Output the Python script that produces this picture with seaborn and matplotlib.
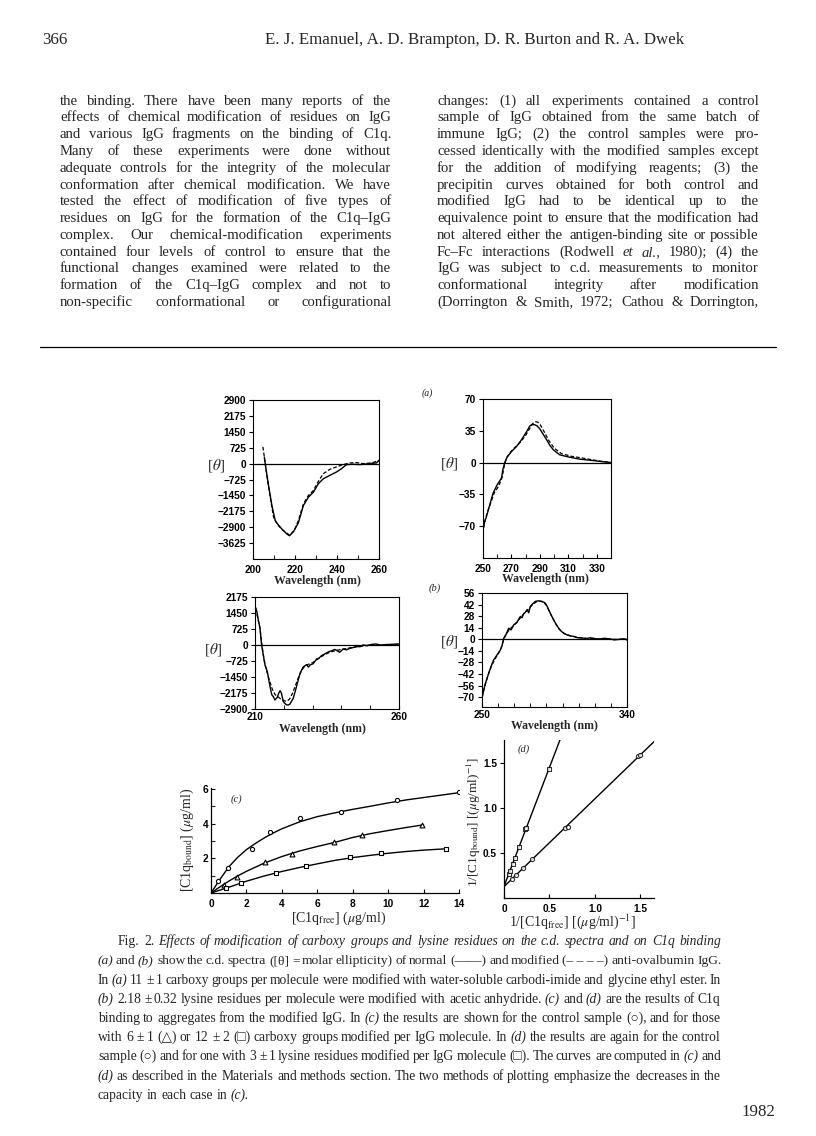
import numpy as np
import seaborn as sns
import matplotlib.pyplot as plt
from matplotlib.lines import Line2D
from matplotlib.font_manager import FontProperties

W, H = 816, 1136

# ---- (a) far-UV c.d. spectrum, carboxy-modified IgG
a1_sol_x = [205.4, 205.8, 207.4, 209.0, 210.6, 211.7, 213.7, 216.1, 217.4, 219.3, 221.6, 224.0, 226.4,
            228.8, 231.1, 233.5, 236.6, 239.8, 242.2, 244.5, 247.7, 250.9, 255.6, 258.8, 260.0]
a1_sol_y = [300, 0, -1000, -1910, -2600, -2750, -2980, -3210, -3290, -3100, -2700, -1910, -1530,
            -1300, -920, -690, -535, -380, -230, -46, -30, -46, 0, 30, 150]
a1_dash_x = [204.7, 205.4, 206.6, 208.2, 209.8, 211.7, 214.5, 217.4, 219.6, 221.6, 224.0, 226.4,
             228.8, 231.1, 233.5, 236.6, 239.8, 242.9, 246.1, 249.3, 252.4, 256.4, 260.0]
a1_dash_y = [765, 300, -535, -1530, -2450, -2800, -3060, -3260, -3060, -2600, -1840, -1450,
             -1220, -810, -460, -260, -150, -46, 30, 46, 0, 30, 140]

# ---- (a) near-UV spectrum
a2_sol_x = [250.5, 251, 252.4, 254.7, 257, 259.9, 263, 264, 265.3, 266.9, 270, 273.6, 277, 280.7, 283,
            284.5, 286.6, 288, 290, 292, 294.8, 297, 299.5, 304, 311, 318.4, 327.8, 334, 340]
a2_sol_y = [-70, -66, -59.6, -46.8, -34, -24.6, -17, -7.4, 0, 5.9, 12.1, 17.7, 25, 34.2, 40.5,
            42, 41.5, 40.5, 37, 32, 25, 19, 14, 8.5, 5.9, 3.7, 2.2, 1, 0]
a2_dash_x = [250.5, 251.5, 253, 255.5, 258, 261, 263.5, 265, 266.5, 269, 272, 276, 280, 283, 285,
             287, 288.5, 290.5, 293, 296, 300, 305, 312, 320, 328, 334, 340]
a2_dash_y = [-72, -63, -55, -44, -33, -26, -16, -3, 5, 11, 16, 22, 30, 38, 43,
             45, 44.5, 41, 34, 25, 16, 10, 7, 5, 2.8, 1.2, 0]

# ---- (b) far-UV spectrum, lysine-modified IgG
b1_sol_x = [210.2, 210.6, 211.2, 211.7, 212.3, 212.9, 213.5, 214.3, 215, 215.8, 216.4, 216.9, 217.7,
            218.2, 218.7, 219.2, 219.8, 220.4, 220.9, 221.5, 222.1, 223.3, 224.4, 225.6, 226.7, 227.9,
            228.5, 229.2, 230.2, 231.4, 232.2, 233.1, 234, 234.8, 235.7, 236.6, 237.7, 238.5, 239.4,
            240.6, 241.7, 242.9, 244, 245.2, 246.5, 247.5, 249, 250.5, 252.1, 253.5, 255.6, 257.5, 260]
b1_sol_y = [1700, 1550, 1100, 790, 0, -480, -920, -1220, -1740, -2250, -2350, -2490, -2380,
            -2200, -2070, -2190, -2560, -2650, -2710, -2720, -2680, -2410, -1890, -1300, -1000, -890,
            -1000, -900, -850, -630, -600, -480, -420, -360, -300, -260, -200, -260, -330,
            -180, -220, -150, -120, -60, -80, 0, -30, 30, 45, 0, 20, 30, 45]
b1_dash_x = [210.2, 211, 211.8, 212.4, 213.2, 214, 215, 216, 217, 218, 219, 220, 221, 222, 223, 224,
             225, 226, 227, 228, 229, 230, 232, 234, 236, 238, 240, 243, 246, 250, 255, 260]
b1_dash_y = [1650, 1200, 700, 0, -700, -1150, -1600, -2000, -2250, -2350, -2450, -2520, -2550, -2450,
             -2200, -1850, -1500, -1200, -1000, -900, -850, -800, -620, -450, -330, -250, -200, -130,
             -70, 0, 10, 30]

# ---- (b) near-UV spectrum
b2_sol_x = [250, 251, 252, 253.1, 254.2, 255.2, 256.2, 257.2, 258.3, 259.3, 260.4, 261.4, 262.4, 263.5,
            264.3, 265.1, 266.6, 267.3, 268, 268.8, 269.7, 270.7, 271.7, 272.7, 273.8, 274.8, 275.9,
            277, 278, 279, 280, 281.5, 283.1, 285, 287.3, 289.3, 290.4, 291.4, 293, 294.5, 296, 297.6,
            299, 300.7, 302.5, 304.9, 307, 309, 312, 315.2, 317, 319.4, 321.5, 323.5, 326, 329.7, 332,
            335.9, 338, 340]
b2_sol_y = [-72, -62, -54, -47.5, -41, -35.3, -30, -25, -22, -19, -16, -13, -8, 1.2,
            4, 6.5, 13.4, 12, 11.4, 14, 17.5, 19, 20.3, 24, 27.6, 26, 30.9,
            33, 35.7, 32, 39.8, 43, 45.9, 46.5, 45.9, 43.8, 40, 35.7, 29, 23.5, 18, 13.4,
            10, 7.3, 5.5, 4, 3.5, 2, 1.5, 0.8, 1.8, 1.2, 0, 0.5, 1.2, 0.4, -0.8,
            0, 0.6, -0.8]
b2_dash_x = [250, 252, 254, 256, 258, 260, 262, 263.5, 265, 267, 270, 273, 276, 279, 282, 284, 286,
             288, 290, 292, 294, 296, 298, 301, 305, 310, 315, 320, 330, 340]
b2_dash_y = [-70, -55, -42, -32, -24, -18, -10, 0, 6, 12, 17, 24, 31, 37, 43, 45.5, 46,
             45, 41, 33, 25, 18, 12, 7, 4, 2, 1, 0.5, 0, 0]

# ---- (c) C1q binding, direct plot
c_ctrl_x = [0.42, 0.94, 2.32, 3.34, 5.0, 7.34, 10.5, 14.0]
c_ctrl_y = [0.68, 1.45, 2.55, 3.5, 4.3, 4.69, 5.37, 5.8]
c_tri_x = [0.75, 1.45, 3.04, 4.57, 6.96, 8.54, 11.9]
c_tri_y = [0.45, 0.92, 1.8, 2.27, 2.93, 3.37, 3.92]
c_sq_x = [0.85, 1.72, 3.68, 5.39, 7.84, 9.59, 13.28]
c_sq_y = [0.3, 0.6, 1.18, 1.55, 2.06, 2.29, 2.54]
# computed curves
c_ctrl_cx = [0, 0.5, 1, 1.5, 2, 2.5, 3, 3.5, 4, 5, 6, 7, 8, 9, 10, 11, 12, 13, 14]
c_ctrl_cy = [0, 0.78, 1.5, 2.05, 2.5, 2.85, 3.17, 3.45, 3.7, 4.1, 4.4, 4.62, 4.82, 5.0, 5.19, 5.36, 5.5, 5.64, 5.78]
c_tri_cx = [0, 0.5, 1, 1.5, 2, 3, 4, 5, 6, 7, 8, 9, 10, 11, 12]
c_tri_cy = [0, 0.35, 0.68, 0.98, 1.25, 1.72, 2.1, 2.42, 2.68, 2.92, 3.2, 3.42, 3.6, 3.77, 3.93]
c_sq_cx = [0, 1, 2, 3, 4, 5, 6, 7, 8, 9, 10, 11, 12, 13, 13.3]
c_sq_cy = [0, 0.33, 0.68, 0.98, 1.24, 1.47, 1.68, 1.88, 2.04, 2.17, 2.29, 2.39, 2.47, 2.53, 2.55]

# ---- (d) double-reciprocal plot
d_mod_x = [0.055, 0.066, 0.095, 0.121, 0.168, 0.23, 0.242, 0.498]
d_mod_y = [0.27, 0.30, 0.38, 0.44, 0.56, 0.76, 0.78, 1.43]
d_ctrl_x = [0.084, 0.13, 0.212, 0.311, 0.67, 0.70, 1.477, 1.495]
d_ctrl_y = [0.21, 0.26, 0.33, 0.43, 0.78, 0.79, 1.57, 1.58]

left_col = [
    "the binding. There have been many reports of the",
    "effects of chemical modification of residues on IgG",
    "and various IgG fragments on the binding of C1q.",
    "Many of these experiments were done without",
    "adequate controls for the integrity of the molecular",
    "conformation after chemical modification. We have",
    "tested the effect of modification of five types of",
    "residues on IgG for the formation of the C1q–IgG",
    "complex. Our chemical-modification experiments",
    "contained four levels of control to ensure that the",
    "functional changes examined were related to the",
    "formation of the C1q–IgG complex and not to",
    "non-specific conformational or configurational",
]
right_col = [
    "changes: (1) all experiments contained a control",
    "sample of IgG obtained from the same batch of",
    "immune IgG; (2) the control samples were pro-",
    "cessed identically with the modified samples except",
    "for the addition of modifying reagents; (3) the",
    "precipitin curves obtained for both control and",
    "modified IgG had to be identical up to the",
    "equivalence point to ensure that the modification had",
    "not altered either the antigen-binding site or possible",
    "Fc–Fc interactions (Rodwell ~et ~al., 1980); (4) the",
    "IgG was subject to c.d. measurements to monitor",
    "conformational integrity after modification",
    "(Dorrington & Smith, 1972; Cathou & Dorrington,",
]
caption = [
    "Fig. 2. ~Effects ~of ~modification ~of ~carboxy ~groups ~and ~lysine ~residues ~on ~the ~c.d. ~spectra ~and ~on ~C1q ~binding",
    "~(a) and ~(b) show the c.d. spectra ([θ] = molar ellipticity) of normal (——) and modified (–\u00a0–\u00a0–\u00a0–) anti-ovalbumin IgG.",
    "In ~(a) 11 ± 1 carboxy groups per molecule were modified with water-soluble carbodi-imide and glycine ethyl ester. In",
    "~(b) 2.18 ± 0.32 lysine residues per molecule were modified with acetic anhydride. ~(c) and ~(d) are the results of C1q",
    "binding to aggregates from the modified IgG. In ~(c) the results are shown for the control sample (○), and for those",
    "with 6 ± 1 (△) or 12 ± 2 (□) carboxy groups modified per IgG molecule. In ~(d) the results are again for the control",
    "sample (○) and for one with 3 ± 1 lysine residues modified per IgG molecule (□). The curves are computed in ~(c) and",
    "~(d) as described in the Materials and methods section. The two methods of plotting emphasize the decreases in the",
    "capacity in each case in ~(c).",
]

sns.set_style("ticks")
plt.rcParams['font.family'] = 'Liberation Sans'
plt.rcParams['mathtext.fontset'] = 'stix'
SERIF = 'Liberation Serif'
SHAPES = set('○△□')
TICK = dict(labelsize=7.3, length=3, width=0.8, pad=2, colors='k')

fig = plt.figure(figsize=(W / 100, H / 100), dpi=100)
renderer = fig.canvas.get_renderer()


def px_axes(l, t, r, b):
    return fig.add_axes([l / W, 1 - b / H, (r - l) / W, (b - t) / H])


def ftext(x, y, s, **kw):
    kw.setdefault('family', SERIF)
    return fig.text(x / W, 1 - y / H, s, **kw)


def fam_for(word):
    # only the geometric signs need a fallback family
    return [SERIF, 'DejaVu Sans'] if SHAPES & set(word) else SERIF


def word_width(word, size, italic):
    fp = FontProperties(family=fam_for(word), size=size, style='italic' if italic else 'normal')
    w, _, _ = renderer.get_text_width_height_descent(word, fp, ismath=False)
    return w


def put_line(text, x0, x1, y, size, justify=True, min_gap=2.5):
    """Lay out one line of words between x0 and x1 (pixels), baseline at y."""
    words = [(w.lstrip('~'), w.startswith('~')) for w in text.split(' ')]
    n = len(words)
    widths = [word_width(w, size, it) for w, it in words]
    avail = x1 - x0 - min_gap * (n - 1)
    if sum(widths) > avail:
        # shrink a too-long line so it still fits
        size = size * avail / sum(widths)
        widths = [word_width(w, size, it) for w, it in words]
    gap = size * 100 / 72 * 0.25
    if justify and n > 1:
        gap = (x1 - x0 - sum(widths)) / (n - 1)
    x = x0
    y = round(y)
    for (w, it), wd in zip(words, widths):
        ftext(round(x), y, w, fontsize=size, va='baseline', ha='left', family=fam_for(w),
              style='italic' if it else 'normal')
        x += wd + gap


def spectrum(ax, sx, sy, dx, dy):
    ax.axhline(0, color='k', lw=0.9)
    sns.lineplot(x=sx, y=sy, ax=ax, color='k', lw=1.0, sort=False, estimator=None)
    sns.lineplot(x=dx, y=dy, ax=ax, color='k', lw=0.9, sort=False, estimator=None, dashes=False,
                 linestyle=(0, (3, 1.6)))
    for s in ax.spines.values():
        s.set_linewidth(0.8)
        s.set_color('k')
    ax.tick_params(axis='y', direction='out', **TICK)
    ax.tick_params(axis='x', direction='in', **TICK)
    ax.tick_params(axis='x', which='minor', direction='in', length=3, width=0.8)


def bold_ticks(ax):
    for lab in ax.get_xticklabels() + ax.get_yticklabels():
        lab.set_fontweight('bold')


# (a) left
ax = px_axes(253, 400, 379, 559)
spectrum(ax, a1_sol_x, a1_sol_y, a1_dash_x, a1_dash_y)
ax.set_xlim(200, 260)
ax.set_ylim(-4350, 2900)
ax.set_yticks([2900, 2175, 1450, 725, 0, -725, -1450, -2175, -2900, -3625])
ax.set_xticks([200, 220, 240, 260])
ax.set_xticks([210, 230, 250], minor=True)
ax.tick_params(axis='x', pad=4)
bold_ticks(ax)

# (a) right
ax = px_axes(483, 399, 611, 558)
spectrum(ax, a2_sol_x, a2_sol_y, a2_dash_x, a2_dash_y)
ax.set_xlim(250, 340)
ax.set_ylim(-105, 70)
ax.set_yticks([70, 35, 0, -35, -70])
ax.set_xticks([250, 270, 290, 310, 330])
ax.set_xticks([260, 280, 300, 320], minor=True)
ax.tick_params(axis='x', pad=4)
bold_ticks(ax)

# (b) left
ax = px_axes(255, 597, 399, 709)
spectrum(ax, b1_sol_x, b1_sol_y, b1_dash_x, b1_dash_y)
ax.set_xlim(210, 260)
ax.set_ylim(-2900, 2175)
ax.set_yticks([2175, 1450, 725, 0, -725, -1450, -2175, -2900])
ax.set_xticks([210, 260])
ax.set_xticks([220, 230, 240, 250], minor=True)
bold_ticks(ax)

# (b) right
ax = px_axes(482, 593, 627, 707)
spectrum(ax, b2_sol_x, b2_sol_y, b2_dash_x, b2_dash_y)
ax.set_xlim(250, 340)
ax.set_ylim(-82, 56)
ax.set_yticks([56, 42, 28, 14, 0, -14, -28, -42, -56, -70])
ax.set_xticks([250, 340])
ax.set_xticks([260, 270, 280, 290, 300, 310, 320, 330], minor=True)
bold_ticks(ax)

# (c)
ax = px_axes(211, 788, 459, 893)
for cx, cy in [(c_ctrl_cx, c_ctrl_cy), (c_tri_cx, c_tri_cy), (c_sq_cx, c_sq_cy)]:
    sns.lineplot(x=cx, y=cy, ax=ax, color='k', lw=1.0, sort=False, estimator=None)
sns.scatterplot(x=c_ctrl_x, y=c_ctrl_y, ax=ax, marker='o', s=9, color='white', edgecolor='k', linewidth=0.8, zorder=3)
sns.scatterplot(x=c_tri_x, y=c_tri_y, ax=ax, marker='^', s=12, color='white', edgecolor='k', linewidth=0.8, zorder=3)
sns.scatterplot(x=c_sq_x, y=c_sq_y, ax=ax, marker='s', s=10, color='white', edgecolor='k', linewidth=0.8, zorder=3)
ax.set_xlim(0, 14)
ax.set_ylim(0, 6.05)
ax.set_xticks(range(0, 15, 2))
ax.set_yticks([2, 4, 6])
ax.set_yticks([1, 3, 5], minor=True)
sns.despine(ax=ax)
for s in ax.spines.values():
    s.set_linewidth(0.9)
    s.set_color('k')
ax.tick_params(direction='in', **TICK)
ax.tick_params(axis='y', which='minor', direction='in', length=3, width=0.8)
ax.tick_params(axis='x', pad=4)
bold_ticks(ax)

# (d)
ax = px_axes(504, 740, 654, 898)
ax.set_xlim(0, 1.65)
ax.set_ylim(0, 1.75)
sns.regplot(x=np.array(d_mod_x), y=np.array(d_mod_y), ax=ax, ci=None, truncate=False, marker='s', color='k',
            scatter_kws=dict(s=10, facecolors='white', edgecolors='k', linewidths=0.8, zorder=3),
            line_kws=dict(lw=1.0))
sns.regplot(x=np.array(d_ctrl_x), y=np.array(d_ctrl_y), ax=ax, ci=None, truncate=False, marker='o', color='k',
            scatter_kws=dict(s=9, facecolors='white', edgecolors='k', linewidths=0.8, zorder=3),
            line_kws=dict(lw=1.0))
ax.set_xlim(0, 1.65)
ax.set_ylim(0, 1.75)
ax.set_xlabel('')
ax.set_ylabel('')
ax.set_xticks([0, 0.5, 1.0, 1.5], ['0', '0.5', '1.0', '1.5'])
ax.set_yticks([0.5, 1.0, 1.5], ['0.5', '1.0', '1.5'])
sns.despine(ax=ax)
for s in ax.spines.values():
    s.set_linewidth(0.9)
    s.set_color('k')
ax.tick_params(axis='y', direction='out', **TICK)
ax.tick_params(axis='x', direction='in', **TICK)
ax.tick_params(axis='x', pad=4)
bold_ticks(ax)

# axis labels and panel letters
for x, y in [(317, 581), (545, 579), (322, 729), (554, 726)]:
    ftext(x, y, 'Wavelength (nm)', fontsize=8.5, fontweight='bold', ha='center', va='center')
for x, y in [(216, 465), (449, 463), (213, 649), (449, 641)]:
    ftext(x, y, r'[$\theta$]', fontsize=11, ha='center', va='center')
ftext(427, 393, '(a)', fontsize=7, style='italic', ha='center', va='center')
ftext(435, 588, '(b)', fontsize=7.5, style='italic', ha='center', va='center')
ftext(236, 799, '(c)', fontsize=7.5, style='italic', ha='center', va='center')
ftext(524, 749, '(d)', fontsize=7.5, style='italic', ha='center', va='center')
ftext(339, 918, r'[C1q$_{\mathrm{free}}$] ($\mu$g/ml)', fontsize=10, ha='center', va='center')
ftext(187, 840, r'[C1q$_{\mathrm{bound}}$] ($\mu$g/ml)', fontsize=10, ha='center', va='center', rotation=90)
ftext(573, 922, r'1/[C1q$_{\mathrm{free}}$] [($\mu$g/ml)$^{-1}$]', fontsize=10, ha='center', va='center')
ftext(474, 822, r'1/[C1q$_{\mathrm{bound}}$] [($\mu$g/ml)$^{-1}$]', fontsize=9.5, ha='center', va='center', rotation=90)

# page furniture
ftext(42, 40, '366', fontsize=12.2, ha='left', va='center')
ftext(265, 40, 'E. J. Emanuel, A. D. Brampton, D. R. Burton and R. A. Dwek', fontsize=12.2, ha='left', va='center')
ftext(742, 1112, '1982', fontsize=12.2, ha='left', va='center')
fig.add_artist(Line2D([40 / W, 776 / W], [1 - 347 / H] * 2, color='k', lw=0.9))

for i, line in enumerate(left_col):
    put_line(line, 60, 391, 104.7 + i * 16.78, 10.6)
for i, line in enumerate(right_col):
    put_line(line, 437, 759, 104.7 + i * 16.78, 10.6)
for i, line in enumerate(caption):
    x0 = 118 if i == 0 else 98
    put_line(line, x0, 721, 945 + i * 19.25, 9.8, justify=(i < len(caption) - 1))

fig.savefig('out.png', dpi=100, facecolor='white')
